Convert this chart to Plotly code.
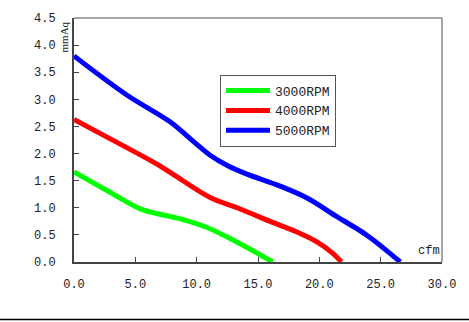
import plotly.graph_objects as go

x3000 = [0.0, 2.9, 5.5, 7.0, 8.6, 10.8, 13.0, 15.2, 16.2]
y3000 = [1.66, 1.29, 0.97, 0.88, 0.80, 0.64, 0.40, 0.13, 0.0]

x4000 = [0.0, 4.3, 6.8, 8.4, 11.1, 13.3, 16.2, 18.4, 19.8, 21.1, 21.8]
y4000 = [2.63, 2.11, 1.80, 1.57, 1.19, 1.00, 0.73, 0.53, 0.37, 0.16, 0.0]

x5000 = [0.0, 4.3, 7.8, 9.7, 11.1, 12.5, 14.1, 16.8, 19.0, 21.4, 23.9, 26.6]
y5000 = [3.80, 3.08, 2.59, 2.23, 1.97, 1.78, 1.62, 1.40, 1.18, 0.84, 0.49, 0.0]

series = [("3000RPM", x3000, y3000, "#00ff00"),
          ("4000RPM", x4000, y4000, "#ff0000"),
          ("5000RPM", x5000, y5000, "#0000ff")]

x_ticks = [0, 5, 10, 15, 20, 25, 30]
y_ticks = [0, 0.5, 1.0, 1.5, 2.0, 2.5, 3.0, 3.5, 4.0, 4.5]

fig = go.Figure()
for name, xs, ys, col in series:
    fig.add_trace(go.Scatter(x=xs, y=ys, name=name, mode="lines",
                             line=dict(color=col, width=5, shape="spline", smoothing=1.0)))

font = dict(family="Liberation Mono, Courier New, monospace", size=12, color="#222")

fig.update_layout(
    width=469, height=322,
    margin=dict(l=74, r=27, t=16, b=60),
    paper_bgcolor="white", plot_bgcolor="white",
    showlegend=True,
    legend=dict(x=(220 - 74) / 368, y=(262 - 73) / 246, xanchor="left", yanchor="top",
                bordercolor="#555", borderwidth=1, bgcolor="white",
                font=dict(family="Liberation Mono, monospace", size=13, color="#222"),
                tracegroupgap=0, itemwidth=44),
    font=font,
)
fig.update_xaxes(range=[0, 30], tickvals=x_ticks, tickformat=".1f",
                 showgrid=False, zeroline=False, showline=True, linecolor="#444",
                 linewidth=2, ticks="inside", ticklen=5, tickcolor="#444",
                 tickfont=font, ticklabelstandoff=10)
fig.update_yaxes(range=[0, 4.5], tickvals=y_ticks, tickformat=".1f",
                 showgrid=False, zeroline=False, showline=True, linecolor="#444",
                 linewidth=2, ticks="inside", ticklen=5, tickcolor="#444",
                 tickfont=font, ticklabelstandoff=14)

# top and right frame (lighter)
fig.add_shape(type="line", xref="paper", yref="paper", x0=0, x1=1, y0=1, y1=1,
              line=dict(color="#888", width=1.5))
fig.add_shape(type="line", xref="paper", yref="paper", x0=1, x1=1, y0=0, y1=1,
              line=dict(color="#888", width=1.5))
# bottom rule across the page
fig.add_shape(type="line", xref="paper", yref="paper", x0=-74/368, x1=1+27/368,
              y0=-(320-262)/246, y1=-(320-262)/246, line=dict(color="#000", width=1.5))

fig.add_annotation(text="mmAq", xref="paper", yref="paper", x=-2/368, y=1 - 2/246,
                   xanchor="right", yanchor="top", textangle=-90, showarrow=False,
                   font=dict(family="Liberation Serif, serif", size=11, color="#222"))
fig.add_annotation(text="cfm", xref="paper", yref="paper", x=1.0, y=(262 - 251) / 246,
                   xanchor="right", yanchor="middle", showarrow=False,
                   font=font)

fig.write_html("out.html")
